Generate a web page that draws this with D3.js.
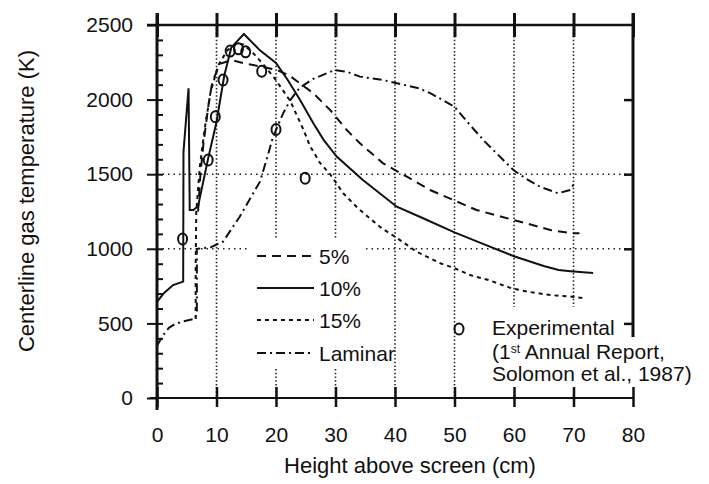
<!DOCTYPE html>
<html>
<head>
  <script src="https://d3js.org/d3.v7.min.js"></script>
  <title>Centerline gas temperature</title>
  <style>
  body { margin: 0; background: white; }
  svg text { font-family: "Liberation Sans", Arial, Helvetica, sans-serif; fill: #111; }
  </style>
</head>
<body>
<svg id="chart" width="709" height="484"></svg>
<script>
// curves: [height (cm), temperature (K)]
var solid10 = [[0,645],[1.1,700],[2.7,757],[4.4,780],[4.45,1650],[5.3,2076],[5.5,1260],[6.1,1260],[6.9,1285],
  [8.6,1606],[10,1850],[11.3,2160],[12.5,2350],[14.6,2440],[17.3,2330],[20,2245],[22,2130],[24,2000],[26.3,1840],
  [28,1730],[30.2,1618],[34.6,1461],[40.3,1282],[45,1200],[50,1110],[55,1030],[60,950],[65,885],[67.5,858],
  [69.5,850],[73.3,838]];
var dash5 = [[6.9,1250],[7.3,1500],[7.8,1700],[8.6,1950],[9.3,2120],[10.6,2240],[12.5,2265],[14.5,2245],[17,2225],
  [20,2200],[22.1,2165],[24,2110],[26.3,2042],[29.1,1930],[31.9,1796],[34.1,1707],[38,1573],[42,1483],[45.9,1394],
  [49.8,1327],[53.7,1260],[57.9,1215],[62.1,1170],[66.1,1126],[69.7,1104],[71,1104]];
var dash15 = [[6.5,530],[6.5,900],[6.6,1250],[7.2,1550],[8,1800],[9,2050],[10.3,2230],[11.8,2330],[13.3,2375],
  [14.5,2370],[16.2,2310],[18,2230],[19.8,2140],[21.2,2060],[22.4,1990],[23.2,1920],[24.6,1800],[25.7,1690],
  [27.4,1575],[29.1,1500],[31.3,1372],[33.8,1271],[36.1,1193],[37.8,1137],[40,1081],[42,1026],[43.6,981],
  [45.9,937],[47.6,903],[50.1,869],[52.6,824],[55.7,791],[59.6,735],[62.4,712],[66.1,690],[69.7,679],[71.9,668]];
var laminar = [[0,350],[1,420],[2,470],[3,495],[4.5,515],[6.3,530],[6.7,560],[6.7,1000],[9,1010],[11.1,1048],
  [13.9,1215],[17.3,1450],[18.4,1595],[19.5,1750],[21.2,1908],[22.4,1997],[24,2080],[26.3,2140],[29.9,2198],
  [31.9,2187],[34.1,2154],[38,2131],[44,2076],[46,2042],[48,1997],[50,1952],[52.6,1830],[55.1,1718],[58.2,1595],
  [59.9,1528],[62,1470],[64.4,1416],[67.4,1372],[69.4,1394],[70,1430]];
var experimental = [[4.3,1065],[8.6,1595],[9.8,1885],[11.1,2131],[12.3,2325],[13.7,2340],[14.9,2320],
  [17.6,2190],[20,1800],[24.9,1473]];

var xTicks = [0,10,20,30,40,50,60,70,80];
var yTicks = [0,500,1000,1500,2000,2500];
var gridX = [10,20,30,40,50,60,70];
var gridY = [1000,1500];
var rightTicks = [500,1000,1500,2000];
var legendLabels = ["5%","10%","15%","Laminar"];
var legendDash = ["9,6","","4,4","9,4,2,4"];

var svg = d3.select("#chart");
var xs = d3.scaleLinear().domain([0,80]).range([157,633]);
var ys = d3.scaleLinear().domain([0,2500]).range([398,25]);

// dotted grid
svg.append("g").selectAll("line").data(gridX).enter().append("line")
  .attr("x1", function(d){ return xs(d); }).attr("x2", function(d){ return xs(d); })
  .attr("y1", ys(2500)).attr("y2", ys(0))
  .attr("stroke", "#222").attr("stroke-width", 1.6).attr("stroke-dasharray", "1.5,2.2");
svg.append("g").selectAll("line").data(gridY).enter().append("line")
  .attr("x1", xs(0)).attr("x2", xs(80))
  .attr("y1", function(d){ return ys(d); }).attr("y2", function(d){ return ys(d); })
  .attr("stroke", "#222").attr("stroke-width", 1.6).attr("stroke-dasharray", "1.5,4");

// legend backgrounds hide the grid behind them
svg.append("rect").attr("x", 250).attr("y", 238).attr("width", 114).attr("height", 129).attr("fill", "white");
svg.append("rect").attr("x", 463).attr("y", 307).attr("width", 166).attr("height", 86).attr("fill", "white");

// curves
var line = d3.line().x(function(d){ return xs(d[0]); }).y(function(d){ return ys(d[1]); });
var series = [dash5, solid10, dash15, laminar];
svg.append("g").selectAll("path").data(series).enter().append("path")
  .attr("d", line)
  .attr("fill", "none")
  .attr("stroke", "#111")
  .attr("stroke-width", 2)
  .attr("stroke-dasharray", function(d, i){ return legendDash[i]; });

svg.append("g").selectAll("ellipse").data(experimental).enter().append("ellipse")
  .attr("cx", function(d){ return xs(d[0]); })
  .attr("cy", function(d){ return ys(d[1]); })
  .attr("rx", 4.5).attr("ry", 5.5)
  .attr("fill", "none").attr("stroke", "#111").attr("stroke-width", 2);

// frame
svg.append("line").attr("x1", 147).attr("x2", xs(80)).attr("y1", ys(2500)).attr("y2", ys(2500))
  .attr("stroke", "#111").attr("stroke-width", 2.5);
svg.append("line").attr("x1", xs(0)).attr("x2", xs(0)).attr("y1", 13).attr("y2", 410)
  .attr("stroke", "#111").attr("stroke-width", 3);
svg.append("line").attr("x1", xs(80)).attr("x2", xs(80)).attr("y1", 13).attr("y2", 337)
  .attr("stroke", "#111").attr("stroke-width", 3);
svg.append("line").attr("x1", 150).attr("x2", xs(80)).attr("y1", ys(0)).attr("y2", ys(0))
  .attr("stroke", "#111").attr("stroke-width", 2);

// bottom axis, ticks cross the line
var xAxis = svg.append("g").attr("transform", "translate(0," + ys(0) + ")")
  .call(d3.axisBottom(xs).tickValues(xTicks).tickSize(9).tickPadding(20));
xAxis.select(".domain").remove();
xAxis.selectAll(".tick line").attr("y1", -11).attr("stroke", "#111").attr("stroke-width", 2.5);
xAxis.selectAll("text").style("font-size", "21px").attr("fill", "#111");

// top axis, ticks only
var topAxis = svg.append("g").attr("transform", "translate(0," + ys(2500) + ")")
  .call(d3.axisTop(xs).tickValues(xTicks).tickSize(12).tickFormat(""));
topAxis.select(".domain").remove();
topAxis.selectAll(".tick line").attr("y2", 12).attr("y1", -12).attr("stroke", "#111").attr("stroke-width", 3);

// left axis with inside minor ticks
var yAxis = svg.append("g").attr("transform", "translate(" + xs(0) + ",0)")
  .call(d3.axisLeft(ys).tickValues(yTicks).tickFormat(d3.format("d")).tickSize(10).tickPadding(14));
yAxis.select(".domain").remove();
yAxis.selectAll(".tick line").attr("stroke", "#111").attr("stroke-width", 2);
yAxis.selectAll("text").style("font-size", "21px").attr("fill", "#111");

var minor = svg.append("g").attr("transform", "translate(" + xs(0) + ",0)")
  .call(d3.axisRight(ys).tickValues(d3.range(100, 2500, 100)).tickSize(6).tickFormat(""));
minor.select(".domain").remove();
minor.selectAll(".tick line").attr("stroke", "#111").attr("stroke-width", 2);

var rAxis = svg.append("g").attr("transform", "translate(" + xs(80) + ",0)")
  .call(d3.axisLeft(ys).tickValues(rightTicks).tickSize(9).tickFormat(""));
rAxis.select(".domain").remove();
rAxis.selectAll(".tick line").attr("stroke", "#111").attr("stroke-width", 2.5);

// axis titles
svg.append("text")
  .attr("x", 410).attr("y", 473)
  .attr("text-anchor", "middle")
  .style("font-size", "22px")
  .text("Height above screen (cm)");
svg.append("text")
  .attr("transform", "translate(34,201) rotate(-90)")
  .attr("text-anchor", "middle")
  .style("font-size", "22px")
  .text("Centerline gas temperature (K)");

// legend for the curves
var legendY = [256, 288, 320, 353];
var leg = svg.append("g").selectAll("g").data(legendLabels).enter().append("g")
  .attr("transform", function(d, i){ return "translate(0," + legendY[i] + ")"; });
leg.append("line")
  .attr("x1", 257).attr("x2", 314).attr("y1", 0).attr("y2", 0)
  .attr("stroke", "#111").attr("stroke-width", 2)
  .attr("stroke-dasharray", function(d, i){ return legendDash[i]; });
leg.append("text")
  .attr("x", 319).attr("y", 7.5)
  .style("font-size", "21px")
  .text(function(d){ return d; });

// legend for the measurements
svg.append("ellipse").attr("cx", 459).attr("cy", 329).attr("rx", 4.5).attr("ry", 5.5)
  .attr("fill", "none").attr("stroke", "#111").attr("stroke-width", 2);
svg.append("text").attr("x", 492).attr("y", 335).style("font-size", "21px").text("Experimental");
var ref = svg.append("text").attr("x", 492).attr("y", 359).style("font-size", "21px");
ref.append("tspan").text("(1");
ref.append("tspan").attr("dy", -6).style("font-size", "12px").text("st");
ref.append("tspan").attr("dy", 6).text(" Annual Report,");
svg.append("text").attr("x", 492).attr("y", 381).style("font-size", "21px").text("Solomon et al., 1987)");
</script>
</body>
</html>
